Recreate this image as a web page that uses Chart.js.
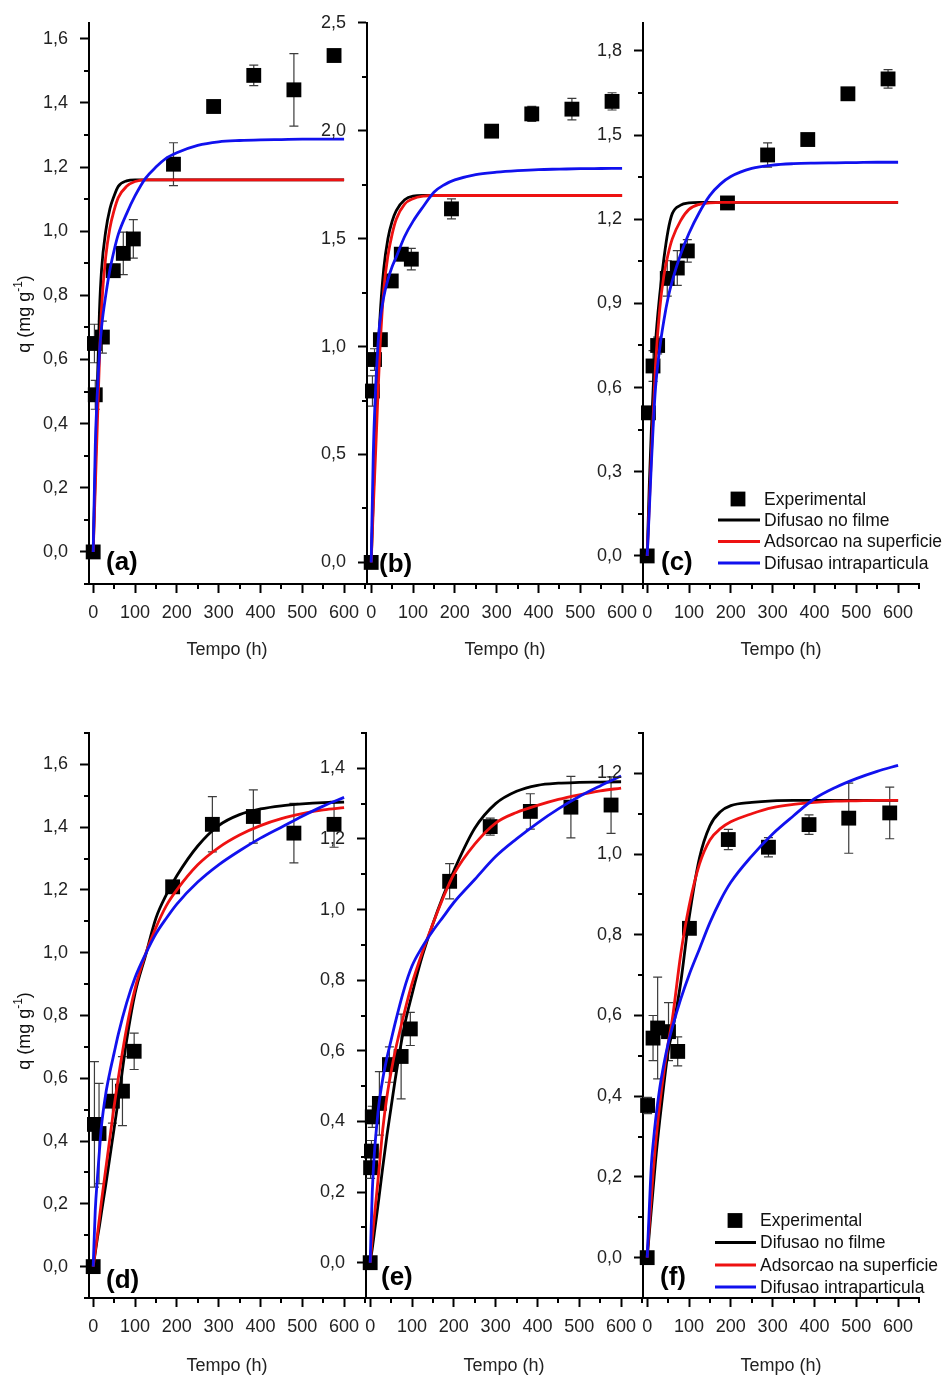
<!DOCTYPE html>
<html>
<head>
<meta charset="utf-8">
<script src="https://cdn.jsdelivr.net/npm/chart.js@4.4.0/dist/chart.umd.min.js"></script>
<style>
  body { margin: 0; background: #fff; }
  #wrap { position: relative; width: 949px; height: 1378px; background: #fff; overflow: hidden; }
  #wrap canvas { position: absolute; }
</style>
</head>
<body>
<div id="wrap"></div>
<script>
const FONT = "'Liberation Sans', Arial, Helvetica, sans-serif";
const seriesNames = ['Experimental', 'Difusao no filme', 'Adsorcao na superficie', 'Difusao intraparticula'];
const xTicks = [0, 100, 200, 300, 400, 500, 600];
const tFit = [0, 5, 10, 15, 20, 30, 40, 50, 60, 80, 100, 125, 150, 175, 200, 250, 300, 350, 400, 450, 500, 550, 600];

// (a)
const tA = [0, 5, 3, 22, 48, 72, 96, 192, 288, 384, 480, 576];
const qA = [0, 0.49, 0.65, 0.67, 0.877, 0.931, 0.976, 1.209, 1.389, 1.486, 1.441, 1.548];
const eA = [0, 0.045, 0.06, 0.05, 0.02, 0.066, 0.06, 0.067, 0, 0.032, 0.113, 0];
const filmA = [0, 0.25, 0.52, 0.75, 0.88, 1.0, 1.07, 1.11, 1.14, 1.157, 1.16, 1.16, 1.16, 1.16, 1.16, 1.16, 1.16, 1.16, 1.16, 1.16, 1.16, 1.16, 1.16];
const surfA = [0, 0.2, 0.4, 0.6, 0.76, 0.92, 1.01, 1.065, 1.105, 1.14, 1.155, 1.16, 1.16, 1.16, 1.16, 1.16, 1.16, 1.16, 1.16, 1.16, 1.16, 1.16, 1.16];
const intraA = [0, 0.33, 0.5, 0.62, 0.7, 0.8, 0.88, 0.94, 0.99, 1.055, 1.11, 1.165, 1.2, 1.228, 1.245, 1.268, 1.279, 1.283, 1.285, 1.286, 1.287, 1.287, 1.287];
const yTicksA = [0, 0.2, 0.4, 0.6, 0.8, 1.0, 1.2, 1.4, 1.6];

// (b)
const tB = [0, 3, 8, 22, 48, 72, 96, 192, 288, 384, 480, 576];
const qB = [0, 0.794, 0.94, 1.032, 1.304, 1.428, 1.405, 1.638, 1.998, 2.078, 2.1, 2.136];
const eB = [0, 0.07, 0.05, 0.02, 0.02, 0.03, 0.05, 0.046, 0.01, 0.035, 0.05, 0.04];
const filmB = [0, 0.3, 0.6, 0.88, 1.1, 1.36, 1.5, 1.58, 1.63, 1.68, 1.697, 1.7, 1.7, 1.7, 1.7, 1.7, 1.7, 1.7, 1.7, 1.7, 1.7, 1.7, 1.7];
const surfB = [0, 0.25, 0.48, 0.72, 0.95, 1.26, 1.42, 1.52, 1.59, 1.66, 1.685, 1.697, 1.7, 1.7, 1.7, 1.7, 1.7, 1.7, 1.7, 1.7, 1.7, 1.7, 1.7];
const intraB = [0, 0.5, 0.78, 0.97, 1.1, 1.23, 1.31, 1.37, 1.415, 1.51, 1.58, 1.65, 1.715, 1.75, 1.772, 1.797, 1.808, 1.815, 1.82, 1.822, 1.824, 1.825, 1.826];
const yTicksB = [0, 0.5, 1.0, 1.5, 2.0, 2.5];

// (c)
const tC = [0, 3, 14, 25, 48, 72, 96, 192, 288, 384, 480, 576];
const qC = [0, 0.51, 0.677, 0.75, 0.989, 1.026, 1.087, 1.258, 1.429, 1.484, 1.647, 1.7];
const eC = [0, 0.02, 0.055, 0.03, 0.063, 0.062, 0.04, 0, 0.043, 0.01, 0.01, 0.033];
const filmC = [0, 0.25, 0.45, 0.62, 0.76, 0.93, 1.06, 1.16, 1.22, 1.25, 1.258, 1.26, 1.26, 1.26, 1.26, 1.26, 1.26, 1.26, 1.26, 1.26, 1.26, 1.26, 1.26];
const surfC = [0, 0.18, 0.36, 0.52, 0.68, 0.88, 1.0, 1.075, 1.13, 1.195, 1.235, 1.253, 1.258, 1.26, 1.26, 1.26, 1.26, 1.26, 1.26, 1.26, 1.26, 1.26, 1.26];
const intraC = [0, 0.16, 0.33, 0.48, 0.6, 0.74, 0.84, 0.92, 0.98, 1.075, 1.15, 1.225, 1.285, 1.325, 1.352, 1.381, 1.393, 1.398, 1.4, 1.401, 1.402, 1.403, 1.403];
const yTicksC = [0, 0.3, 0.6, 0.9, 1.2, 1.5, 1.8];

// (d)
const tD = [0, 3, 14, 46, 70, 98, 190, 285, 383, 480, 576];
const qD = [0, 0.453, 0.424, 0.527, 0.559, 0.686, 1.21, 1.409, 1.434, 1.381, 1.409];
const eD = [0, 0.2, 0.16, 0.07, 0.11, 0.058, 0.01, 0.088, 0.085, 0.095, 0.073];
const filmD = [0, 0.045, 0.09, 0.13, 0.175, 0.26, 0.35, 0.44, 0.53, 0.72, 0.87, 0.99, 1.11, 1.185, 1.245, 1.34, 1.405, 1.44, 1.458, 1.468, 1.474, 1.478, 1.48];
const surfD = [0, 0.05, 0.1, 0.155, 0.21, 0.31, 0.41, 0.51, 0.6, 0.76, 0.885, 0.995, 1.08, 1.15, 1.2, 1.28, 1.335, 1.375, 1.405, 1.427, 1.443, 1.455, 1.462];
const intraD = [0, 0.18, 0.28, 0.37, 0.45, 0.55, 0.62, 0.68, 0.74, 0.84, 0.92, 0.995, 1.06, 1.11, 1.155, 1.225, 1.28, 1.325, 1.365, 1.4, 1.435, 1.467, 1.495];
const yTicksD = [0, 0.2, 0.4, 0.6, 0.8, 1.0, 1.2, 1.4, 1.6];

// (e)
const tE = [0, 1, 3, 5, 22, 46, 74, 96, 190, 287, 383, 480, 576];
const qE = [0, 0.269, 0.316, 0.413, 0.451, 0.561, 0.584, 0.662, 1.08, 1.235, 1.278, 1.29, 1.296];
const eE = [0, 0.03, 0.03, 0.03, 0.09, 0.05, 0.12, 0.047, 0.05, 0.024, 0.05, 0.087, 0.08];
const filmE = [0, 0.04, 0.085, 0.13, 0.175, 0.27, 0.36, 0.44, 0.52, 0.66, 0.76, 0.87, 0.96, 1.04, 1.11, 1.23, 1.3, 1.335, 1.352, 1.358, 1.36, 1.361, 1.362];
const surfE = [0, 0.07, 0.13, 0.19, 0.25, 0.377, 0.47, 0.54, 0.6, 0.7, 0.79, 0.88, 0.96, 1.035, 1.1, 1.185, 1.245, 1.275, 1.295, 1.312, 1.325, 1.336, 1.344];
const intraE = [0, 0.2, 0.31, 0.38, 0.44, 0.52, 0.58, 0.63, 0.68, 0.77, 0.84, 0.895, 0.94, 0.98, 1.02, 1.085, 1.15, 1.2, 1.245, 1.285, 1.32, 1.35, 1.378];
const yTicksE = [0, 0.2, 0.4, 0.6, 0.8, 1.0, 1.2, 1.4];

// (f)
const tF = [0, 1, 14, 25, 51, 73, 101, 194, 290, 387, 482, 580];
const qF = [0, 0.377, 0.544, 0.569, 0.56, 0.511, 0.816, 1.036, 1.017, 1.073, 1.089, 1.102];
const eF = [0, 0.02, 0.056, 0.126, 0.072, 0.036, 0.01, 0.025, 0.024, 0.024, 0.087, 0.064];
const filmF = [0, 0.06, 0.12, 0.18, 0.24, 0.34, 0.43, 0.51, 0.56, 0.68, 0.84, 0.99, 1.07, 1.105, 1.12, 1.128, 1.132, 1.133, 1.133, 1.133, 1.133, 1.133, 1.133];
const surfF = [0, 0.08, 0.15, 0.22, 0.28, 0.38, 0.46, 0.53, 0.59, 0.75, 0.87, 0.975, 1.035, 1.063, 1.08, 1.1, 1.115, 1.123, 1.128, 1.131, 1.132, 1.133, 1.133];
const intraF = [0, 0.12, 0.23, 0.29, 0.34, 0.42, 0.48, 0.53, 0.57, 0.64, 0.7, 0.765, 0.83, 0.885, 0.93, 0.995, 1.05, 1.095, 1.137, 1.165, 1.187, 1.205, 1.22];
const yTicksF = [0, 0.2, 0.4, 0.6, 0.8, 1.0, 1.2];

const colors = ['#000000', '#000000', '#ee1111', '#1111ee'];

// page layout (pixels)
const rows = [
  { top: 0, h: 680, areaTop: 20, areaBottom: 584, titleY: 650, yTitleY: 314 },
  { top: 700, h: 678, areaTop: 733, areaBottom: 1298, titleY: 1366, yTitleY: 1031 }
];
const panels = [
  { id: 'pa', tag: '(a)', row: 0, ax: 89, t: tA, q: qA, e: eA, film: filmA, surf: surfA, intra: intraA, yTicks: yTicksA, yMin: -0.1, yMax: 1.65, minor: 0.1, tagAt: [106, 563], yTitle: true },
  { id: 'pb', tag: '(b)', row: 0, ax: 367, t: tB, q: qB, e: eB, film: filmB, surf: surfB, intra: intraB, yTicks: yTicksB, yMin: -0.1, yMax: 2.5, minor: 0.25, tagAt: [379, 565] },
  { id: 'pc', tag: '(c)', row: 0, ax: 643, t: tC, q: qC, e: eC, film: filmC, surf: surfC, intra: intraC, yTicks: yTicksC, yMin: -0.1, yMax: 1.9, minor: 0.15, tagAt: [661, 563],
    legend: { sq: 738, l0: 718, l1: 760, tx: 764, rows: [499, 520, 541.5, 563] } },
  { id: 'pd', tag: '(d)', row: 1, ax: 89, t: tD, q: qD, e: eD, film: filmD, surf: surfD, intra: intraD, yTicks: yTicksD, yMin: -0.1, yMax: 1.7, minor: 0.1, tagAt: [106, 1281], yTitle: true },
  { id: 'pe', tag: '(e)', row: 1, ax: 366, t: tE, q: qE, e: eE, film: filmE, surf: surfE, intra: intraE, yTicks: yTicksE, yMin: -0.1, yMax: 1.5, minor: 0.1, tagAt: [381, 1278] },
  { id: 'pf', tag: '(f)', row: 1, ax: 643, t: tF, q: qF, e: eF, film: filmF, surf: surfF, intra: intraF, yTicks: yTicksF, yMin: -0.1, yMax: 1.3, minor: 0.1, tagAt: [660, 1278],
    legend: { sq: 735, l0: 715, l1: 756, tx: 760, rows: [1220.5, 1242.5, 1265, 1287] } }
];
const AREA_W = 276, YW = 89, XMIN = -10, XMAX = 650;

function minorValues(min, max, step, majors) {
  const out = [];
  for (let k = Math.ceil(min / step - 1e-6); k * step <= max + 1e-6; k++) {
    const v = k * step;
    if (!majors.some(m => Math.abs(m - v) < 1e-6)) out.push(v);
  }
  return out;
}

const byId = {};

const decoPlugin = {
  id: 'deco',
  beforeDatasetsDraw(chart) {
    // error bars, under the squares
    const p = byId[chart.canvas.id];
    const { ctx, scales: { x, y } } = chart;
    ctx.save();
    ctx.strokeStyle = '#3c3c3c';
    ctx.lineWidth = 1.2;
    p.t.forEach((t, i) => {
      const e = p.e[i];
      if (!e) return;
      const px = x.getPixelForValue(t);
      const y1 = y.getPixelForValue(p.q[i] + e);
      const y2 = y.getPixelForValue(p.q[i] - e);
      ctx.beginPath();
      ctx.moveTo(px, y1); ctx.lineTo(px, y2);
      ctx.moveTo(px - 4.5, y1); ctx.lineTo(px + 4.5, y1);
      ctx.moveTo(px - 4.5, y2); ctx.lineTo(px + 4.5, y2);
      ctx.stroke();
    });
    ctx.restore();
  },
  afterDraw(chart) {
    const p = byId[chart.canvas.id];
    const { ctx, chartArea: area, scales: { x, y } } = chart;
    ctx.save();
    // minor ticks
    ctx.strokeStyle = '#000';
    ctx.lineWidth = 2;
    ctx.beginPath();
    minorValues(XMIN, XMAX, 50, xTicks).forEach(v => {
      const px = Math.round(x.getPixelForValue(v));
      ctx.moveTo(px, area.bottom); ctx.lineTo(px, area.bottom + 5);
    });
    minorValues(p.yMin, p.yMax, p.minor, p.yTicks).forEach(v => {
      const py = Math.round(y.getPixelForValue(v));
      ctx.moveTo(area.left, py); ctx.lineTo(area.left - 5, py);
    });
    ctx.stroke();

    // panel tag
    ctx.fillStyle = '#000';
    ctx.font = 'bold 26px ' + FONT;
    ctx.textAlign = 'left';
    ctx.textBaseline = 'middle';
    ctx.fillText(p.tag, p.tagAt[0] - p.left, p.tagAt[1] - p.top);

    // legend
    if (p.legend) {
      const L = p.legend;
      const ds = chart.data.datasets;
      ctx.font = '17.5px ' + FONT;
      L.rows.forEach((ry, i) => {
        const yy = ry - p.top;
        if (i === 0) {
          ctx.fillStyle = '#000';
          ctx.fillRect(L.sq - 7.4 - p.left, yy - 7.4, 14.8, 14.8);
        } else {
          ctx.strokeStyle = ds[i].borderColor;
          ctx.lineWidth = 2.8;
          ctx.beginPath();
          ctx.moveTo(L.l0 - p.left, yy); ctx.lineTo(L.l1 - p.left, yy);
          ctx.stroke();
        }
        ctx.fillStyle = '#111';
        ctx.fillText(ds[i].label, L.tx - p.left, yy + 1);
      });
    }

    // y axis title with superscript
    if (p.yTitle) {
      const r = rows[p.row];
      ctx.translate(25 - p.left, r.yTitleY - p.top);
      ctx.rotate(-Math.PI / 2);
      const big = '18px ' + FONT, small = '12px ' + FONT;
      ctx.font = big; const w1 = ctx.measureText('q (mg g').width; const w3 = ctx.measureText(')').width;
      ctx.font = small; const w2 = ctx.measureText('-1').width;
      let sx = -(w1 + w2 + w3) / 2;
      ctx.fillStyle = '#111';
      ctx.textBaseline = 'middle';
      ctx.font = big; ctx.fillText('q (mg g', sx, 0); sx += w1;
      ctx.font = small; ctx.fillText('-1', sx, -6); sx += w2;
      ctx.font = big; ctx.fillText(')', sx, 0);
    }
    ctx.restore();
  }
};

const wrap = document.getElementById('wrap');

panels.forEach(p => {
  const r = rows[p.row];
  p.left = p.ax - YW;
  p.top = r.top;
  // the right-hand panels run to the page edge so the legend text fits
  const width = p.legend ? 949 - p.left : YW + AREA_W + 16;
  const cv = document.createElement('canvas');
  cv.id = p.id;
  cv.width = width;
  cv.height = r.h;
  cv.style.left = p.left + 'px';
  cv.style.top = p.top + 'px';
  wrap.appendChild(cv);
  byId[p.id] = p;

  const xH = r.top + r.h - r.areaBottom;
  const titlePad = (r.top + r.h) - r.titleY - 18 * 1.2 / 2;

  new Chart(cv, {
    type: 'scatter',
    data: {
      datasets: [
        { label: seriesNames[0], data: p.t.map((t, i) => ({ x: t, y: p.q[i] })),
          pointStyle: 'rect', pointRadius: 10.5, backgroundColor: colors[0], borderWidth: 0, clip: false, order: 4 },
        { label: seriesNames[1], data: tFit.map((t, i) => ({ x: t, y: p.film[i] })),
          showLine: true, borderColor: colors[1], borderWidth: 2.8, pointRadius: 0, cubicInterpolationMode: 'monotone', order: 3 },
        { label: seriesNames[2], data: tFit.map((t, i) => ({ x: t, y: p.surf[i] })),
          showLine: true, borderColor: colors[2], borderWidth: 2.8, pointRadius: 0, cubicInterpolationMode: 'monotone', order: 2 },
        { label: seriesNames[3], data: tFit.map((t, i) => ({ x: t, y: p.intra[i] })),
          showLine: true, borderColor: colors[3], borderWidth: 2.8, pointRadius: 0, cubicInterpolationMode: 'monotone', order: 1 }
      ]
    },
    options: {
      responsive: false,
      animation: false,
      events: [],
      layout: { padding: { left: 0, top: r.areaTop - r.top, right: width - YW - AREA_W, bottom: 0 } },
      plugins: { legend: { display: false }, tooltip: { enabled: false } },
      scales: {
        x: {
          type: 'linear', min: XMIN, max: XMAX,
          afterBuildTicks: s => { s.ticks = xTicks.map(v => ({ value: v })); },
          afterFit: s => { s.height = xH; },
          grid: { display: true, drawOnChartArea: false, drawTicks: true, tickLength: 9, tickWidth: 2, tickColor: '#000' },
          border: { display: true, color: '#000', width: 2 },
          ticks: { font: { family: FONT, size: 18 }, color: '#222', padding: 9, maxRotation: 0, autoSkip: false,
                   callback: v => String(v) },
          title: { display: true, text: 'Tempo (h)', font: { family: FONT, size: 18 }, color: '#222',
                   padding: { top: 0, bottom: titlePad } }
        },
        y: {
          type: 'linear', min: p.yMin, max: p.yMax,
          afterBuildTicks: s => { s.ticks = p.yTicks.map(v => ({ value: v })); },
          afterFit: s => { s.width = YW; },
          grid: { display: true, drawOnChartArea: false, drawTicks: true, tickLength: 9, tickWidth: 2, tickColor: '#000' },
          border: { display: true, color: '#000', width: 2 },
          ticks: { font: { family: FONT, size: 18 }, color: '#222', padding: 12, autoSkip: false,
                   callback: v => v.toFixed(1).replace('.', ',') }
        }
      }
    },
    plugins: [decoPlugin]
  });
});
</script>
</body>
</html>
